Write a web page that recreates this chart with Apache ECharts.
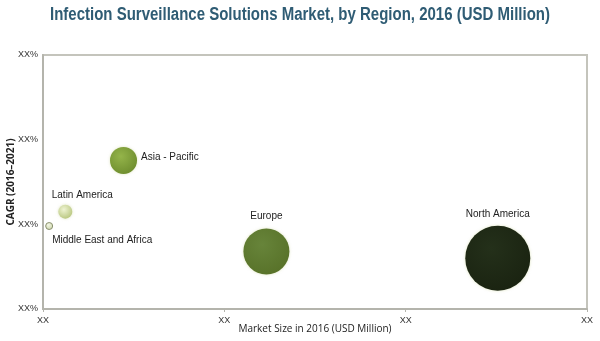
<!DOCTYPE html>
<html>
<head>
<meta charset="utf-8">
<script src="https://cdn.jsdelivr.net/npm/echarts@6/dist/echarts.min.js"></script>
<style>html,body{margin:0;padding:0;background:#fff}#c{width:600px;height:341px}</style>
</head>
<body>
<div id="c"></div>
<script>
var chartTitle = 'Infection Surveillance Solutions Market, by Region, 2016 (USD Million)';
var regions = ['Middle East and Africa', 'Latin America', 'Asia - Pacific', 'Europe', 'North America'];
var marketSize = [0.034, 0.123, 0.444, 1.232, 2.508];
var cagr = [0.98, 1.15, 1.755, 0.68, 0.60];
var bubbleSize = [7, 14, 27, 46, 65];
var xTickLabels = ['XX', 'XX', 'XX', 'XX'];
var yTickLabels = ['XX%', 'XX%', 'XX%', 'XX%'];

var colors = [
  ['#f4f7e6', '#c9d3a6'],
  ['#eef3d2', '#b8c67e'],
  ['#94b44a', '#6e8d2e'],
  ['#67843a', '#587229'],
  ['#24301a', '#1a2311']
];
var labelCfg = [
  {position: 'bottom', offset: [53, 0]},
  {position: 'top', offset: [17, 1]},
  {position: 'right', offset: [-1, -3]},
  {position: 'top', offset: [0, -2]},
  {position: 'top', offset: [0, -1]}
];

var data = regions.map(function (r, i) {
  return {
    name: r,
    value: [marketSize[i], cagr[i], bubbleSize[i]],
    itemStyle: {
      opacity: 1,
      color: {
        type: 'radial', x: 0.4, y: 0.35, r: 0.7,
        colorStops: [{offset: 0, color: colors[i][0]}, {offset: 1, color: colors[i][1]}]
      },
      borderColor: i === 0 ? '#8a9070' : 'rgba(0,0,0,0)',
      borderWidth: i === 0 ? 1 : 0,
      shadowBlur: i === 0 ? 0 : 3,
      shadowColor: 'rgba(200,210,150,0.6)'
    },
    label: labelCfg[i]
  };
});

// measure title to emulate the condensed bold face of the original
var titleFont = 'bold 18px "Liberation Sans"';
var ctx = document.createElement('canvas').getContext('2d');
ctx.font = titleFont;
var titleW = ctx.measureText(chartTitle).width;
var titleScale = 500 / titleW;

var chart = echarts.init(document.getElementById('c'));
chart.setOption({
  animation: false,
  graphic: [{
    type: 'text',
    x: 300, y: 15,
    scaleX: titleScale,
    style: {
      text: chartTitle,
      font: titleFont,
      fill: '#2f5c74',
      align: 'center',
      verticalAlign: 'middle'
    }
  }],
  grid: {left: 43, right: 13, top: 55, bottom: 32, outerBoundsMode: 'none', containLabel: false,
         show: true, borderColor: '#c4c4bc', borderWidth: 2},
  xAxis: {
    type: 'value', min: 0, max: 3, interval: 1,
    name: 'Market Size in 2016 (USD Million)', nameLocation: 'middle', nameGap: 15,
    nameMoveOverlap: false,
    nameTextStyle: {fontFamily: 'Open Sans', fontSize: 10, color: '#222'},
    axisLine: {show: true, lineStyle: {color: '#b4b4ac', width: 2}},
    axisTick: {show: true, length: 3, lineStyle: {color: '#b4b4ac'}},
    splitLine: {show: false},
    axisLabel: {
      fontFamily: 'Liberation Sans', fontSize: 9, color: '#333', margin: 7,
      formatter: function (v) { return xTickLabels[Math.round(v)]; }
    }
  },
  yAxis: {
    type: 'value', min: 0, max: 3, interval: 1,
    name: 'CAGR (2016\u20132021)', nameLocation: 'middle', nameGap: 27,
    nameMoveOverlap: false,
    nameTextStyle: {fontFamily: 'Open Sans', fontSize: 10, color: '#222', fontWeight: 'bold'},
    axisLine: {show: true, lineStyle: {color: '#b4b4ac', width: 2}},
    axisTick: {show: false},
    splitLine: {show: false},
    axisLabel: {
      fontFamily: 'Liberation Sans', fontSize: 9, color: '#333', margin: 5,
      formatter: function (v) { return yTickLabels[Math.round(v)]; }
    }
  },
  series: [{
    type: 'scatter',
    data: data,
    symbolSize: function (v) { return v[2]; },
    label: {
      show: true,
      formatter: '{b}',
      fontFamily: 'Liberation Sans', fontSize: 10, color: '#222'
    }
  }]
});
</script>
</body>
</html>
